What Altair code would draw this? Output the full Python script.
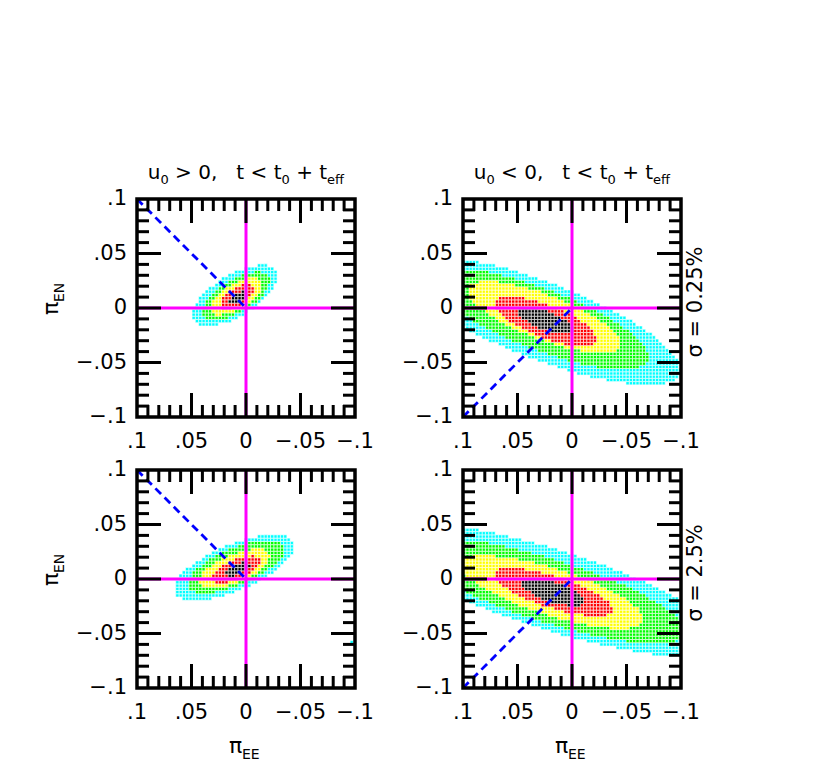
import numpy as np
import pandas as pd
import altair as alt

# ---------------- data ----------------
LEVEL_NAMES = ["5sig", "4sig", "3sig", "2sig", "1sig"]          # outer -> inner
LEVEL_COLORS = ["#00ffff", "#00ff00", "#ffff00", "#ff0000", "#000000"]
CELL = 0.003                                                    # grid cell size

# contour ellipses (data units): centre x/y, semi-major, semi-minor, tilt (deg)
TL_CX = [0.0101, 0.0092, 0.0092, 0.0083, 0.0073]
TL_CY = [0.0115, 0.0112, 0.0108, 0.0108, 0.0092]
TL_A = [0.0440, 0.0350, 0.0270, 0.0175, 0.0090]
TL_B = [0.0190, 0.0150, 0.0115, 0.0080, 0.0048]
TL_ANG = -31

TR_CX = [0.0275, 0.0294, 0.0257, 0.0248, 0.0248]
TR_CY = [-0.0119, -0.0101, -0.0083, -0.0119, -0.0110]
TR_A = [0.1350, 0.1060, 0.0750, 0.0500, 0.0270]
TR_B = [0.0355, 0.0280, 0.0205, 0.0150, 0.0085]
TR_ANG = 21

BL_CX = [0.0110, 0.0092, 0.0110, 0.0092, 0.0078]
BL_CY = [0.0106, 0.0115, 0.0094, 0.0087, 0.0092]
BL_A = [0.0590, 0.0480, 0.0350, 0.0240, 0.0125]
BL_B = [0.0210, 0.0170, 0.0128, 0.0088, 0.0048]
BL_ANG = -23

BR_CX = [0.0200, 0.0202, 0.0183, 0.0174, 0.0174]
BR_CY = [-0.0095, -0.0110, -0.0119, -0.0119, -0.0119]
BR_A = [0.1700, 0.1300, 0.0880, 0.0570, 0.0300]
BR_B = [0.0367, 0.0290, 0.0215, 0.0145, 0.0090]
BR_ANG = 17.5

BL_STRAY_X = [-0.097]
BL_STRAY_Y = [-0.058]

# dashed blue lines: x, y, x2, y2
BLUE_UP = [0.1, 0.1, 0.0, 0.0]
BLUE_DOWN = [0.1, -0.1, 0.0, 0.0]

TICK_VALUES = [0.1, 0.05, 0.0, -0.05, -0.1]
TICK_LABELS = [".1", ".05", "0", "\u2212.05", "\u2212.1"]
MAJOR_TICKS = [-0.05, 0.0, 0.05]
MINOR_TICKS = [-0.09, -0.08, -0.07, -0.06, -0.04, -0.03, -0.02, -0.01,
               0.01, 0.02, 0.03, 0.04, 0.06, 0.07, 0.08, 0.09]

SIGMA_LABELS = ["\u03c3 = 0.25%", "\u03c3 = 2.5%"]

# ---------------- styling ----------------
W = H = 218
FONT = "DejaVu Sans"
XS = alt.Scale(domain=[0.1, -0.1], nice=False, zero=False)
YS = alt.Scale(domain=[-0.1, 0.1], nice=False, zero=False)
DW = {' ': 0.318, 'u': 0.634, '0': 0.636, '>': 0.838, '<': 0.838,
      '+': 0.838, ',': 0.318, 't': 0.392, 'e': 0.615, 'f': 0.352}


def text_layer(txt, x, y, **style):
    return alt.Chart(pd.DataFrame({"t": [txt]})).mark_text(font=FONT, **style).encode(
        x=alt.value(x), y=alt.value(y), text="t:N")


def cells_df(cx, cy, a, b, ang, sx=(), sy=()):
    g = np.arange(-34, 35) * CELL
    X, Y = np.meshgrid(g, g)
    lev = np.full(X.shape, -1)
    t = np.deg2rad(ang)
    for i in range(5):
        dx = X - cx[i]
        dy = Y - cy[i]
        u = dx * np.cos(t) + dy * np.sin(t)
        v = -dx * np.sin(t) + dy * np.cos(t)
        inside = (u / a[i]) ** 2 + (v / b[i]) ** 2 <= 1
        lev[inside] = np.maximum(lev[inside], i)
    m = lev >= 0
    xs = list(X[m]) + list(sx)
    ys = list(Y[m]) + list(sy)
    ls = list(lev[m]) + [0] * len(sx)
    return pd.DataFrame({
        "x0": np.array(xs) - CELL / 2, "x1": np.array(xs) + CELL / 2,
        "y0": np.array(ys) - CELL / 2, "y1": np.array(ys) + CELL / 2,
        "level": [LEVEL_NAMES[i] for i in ls]})


def tick_layers(vals, length):
    d = alt.Chart(pd.DataFrame({"v": vals}))
    st = dict(color="black", strokeWidth=3)
    return [
        d.mark_rule(**st).encode(x=alt.X("v:Q", scale=XS, axis=None), y=alt.value(H), y2=alt.value(H - length)),
        d.mark_rule(**st).encode(x=alt.X("v:Q", scale=XS, axis=None), y=alt.value(0), y2=alt.value(length)),
        d.mark_rule(**st).encode(y=alt.Y("v:Q", scale=YS, axis=None), x=alt.value(0), x2=alt.value(length)),
        d.mark_rule(**st).encode(y=alt.Y("v:Q", scale=YS, axis=None), x=alt.value(W), x2=alt.value(W - length)),
    ]


def title_layers(sign):
    fs_main, fs_sub = 20, 13
    sp = DW[' '] * fs_main
    # (text, is_main, spaces before)
    tokens = [("u", 1, 0), ("0", 0, 0), (sign, 1, 1), ("0,", 1, 1), ("t", 1, 3), ("<", 1, 1),
              ("t", 1, 1), ("0", 0, 0), ("+", 1, 1), ("t", 1, 1), ("eff", 0, 0)]
    pos = []
    x = 0.0
    for tok, m, nsp in tokens:
        x += nsp * sp
        pos.append(x)
        x += sum(DW[c] for c in tok) * (fs_main if m else fs_sub)
    x0 = W / 2 - x / 2
    out = []
    for (tok, m, nsp), p in zip(tokens, pos):
        out.append(text_layer(tok, x0 + p, -20 if m else -15, fontSize=fs_main if m else fs_sub,
                              align="left", baseline="alphabetic"))
    return out


def panel(cells, blue, sign=None, left=False, bottom=False, sigma=None):
    layers = []
    layers.append(alt.Chart(cells).mark_rect(stroke="white", strokeWidth=0.6, clip=True).encode(
        x=alt.X("x0:Q", scale=XS, axis=None), x2="x1",
        y=alt.Y("y0:Q", scale=YS, axis=None), y2="y1",
        color=alt.Color("level:N", scale=alt.Scale(domain=LEVEL_NAMES, range=LEVEL_COLORS), legend=None)))
    zero = alt.Chart(pd.DataFrame({"v": [0.0]}))
    layers.append(zero.mark_rule(color="#ff00ff", strokeWidth=3).encode(x=alt.X("v:Q", scale=XS, axis=None)))
    layers.append(zero.mark_rule(color="#ff00ff", strokeWidth=3).encode(y=alt.Y("v:Q", scale=YS, axis=None)))
    bl = pd.DataFrame({"x": [blue[0]], "y": [blue[1]], "x2": [blue[2]], "y2": [blue[3]]})
    layers.append(alt.Chart(bl).mark_rule(color="#0000ff", strokeWidth=2.8, strokeDash=[8, 5]).encode(
        x=alt.X("x:Q", scale=XS, axis=None), y=alt.Y("y:Q", scale=YS, axis=None), x2="x2", y2="y2"))
    layers.append(alt.Chart(pd.DataFrame({"a": [0]})).mark_rect(fillOpacity=0, stroke="black", strokeWidth=3.5).encode(
        x=alt.value(0), x2=alt.value(W), y=alt.value(0), y2=alt.value(H)))
    layers += tick_layers(MINOR_TICKS, 12)
    layers += tick_layers(MAJOR_TICKS, 24)
    lab = alt.Chart(pd.DataFrame({"v": TICK_VALUES, "t": TICK_LABELS}))
    layers.append(lab.mark_text(font=FONT, fontSize=21, baseline="middle", align="center").encode(
        x=alt.X("v:Q", scale=XS, axis=None), y=alt.value(H + 25), text="t:N"))
    layers.append(lab.mark_text(font=FONT, fontSize=21, baseline="middle", align="right").encode(
        y=alt.Y("v:Q", scale=YS, axis=None), x=alt.value(-10), text="t:N"))
    if sign:
        layers += title_layers(sign)
    if left:
        layers.append(text_layer("\u03c0", -79, 116, fontSize=22, angle=270, align="left", baseline="alphabetic"))
        layers.append(text_layer("EN", -73, 103, fontSize=14, angle=270, align="left", baseline="alphabetic"))
    if bottom:
        layers.append(text_layer("\u03c0", 92, 283, fontSize=22, align="left", baseline="alphabetic"))
        layers.append(text_layer("EE", 105, 289, fontSize=14, align="left", baseline="alphabetic"))
    if sigma:
        layers.append(text_layer(sigma, 239, 103, fontSize=21, angle=270, align="center", baseline="alphabetic"))
    return alt.layer(*layers).properties(width=W, height=H)


tl = panel(cells_df(TL_CX, TL_CY, TL_A, TL_B, TL_ANG), BLUE_UP, sign=">", left=True)
tr = panel(cells_df(TR_CX, TR_CY, TR_A, TR_B, TR_ANG), BLUE_DOWN, sign="<", sigma=SIGMA_LABELS[0])
bl = panel(cells_df(BL_CX, BL_CY, BL_A, BL_B, BL_ANG, BL_STRAY_X, BL_STRAY_Y), BLUE_UP, left=True, bottom=True)
br = panel(cells_df(BR_CX, BR_CY, BR_A, BR_B, BR_ANG), BLUE_DOWN, bottom=True, sigma=SIGMA_LABELS[1])

chart = alt.concat(tl, tr, bl, br, columns=2, spacing={"row": 53, "column": 108}, bounds="flush").properties(
    padding={"left": 32, "top": 155, "right": 5, "bottom": 5}
).configure_view(strokeWidth=0)

chart.save("out.html", embed_options={"renderer": "svg", "actions": False})
